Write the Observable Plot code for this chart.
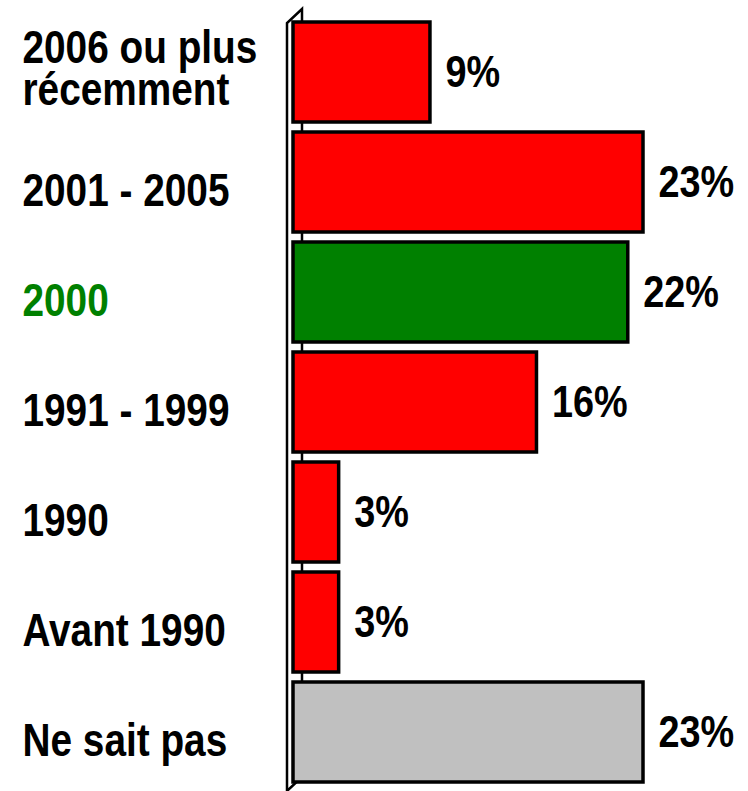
<!DOCTYPE html>
<html>
<head>
<meta charset="utf-8">
<script src="https://cdn.jsdelivr.net/npm/d3@7"></script>
<script src="https://cdn.jsdelivr.net/npm/@observablehq/plot@0.6"></script>
<style>
  html, body { margin: 0; padding: 0; background: #fff; }
  #chart svg { display: block; font-family: "Liberation Sans", Arial, sans-serif; }
</style>
</head>
<body>
<div id="chart"></div>
<script>
const categories = ["2006 ou plus\nrécemment", "2001 - 2005", "2000", "1991 - 1999", "1990", "Avant 1990", "Ne sait pas"];
const values = [9, 23, 22, 16, 3, 3, 23];
const valueLabels = ["9%", "23%", "22%", "16%", "3%", "3%", "23%"];
const barColors = ["#ff0000", "#ff0000", "#008000", "#ff0000", "#ff0000", "#ff0000", "#c0c0c0"];
const labelColors = ["#000", "#000", "#008000", "#000", "#000", "#000", "#000"];

const data = categories.map((c, i) => ({cat: c, value: values[i], label: valueLabels[i], bar: barColors[i], text: labelColors[i]}));

// 3D axis wall drawn with the x scale
function wall(index, scales, values, dimensions) {
  const x0 = scales.x(0);
  const fx = x0 - 6, bx = x0 + 9, d = 14;
  const top = 23, bottom = dimensions.height;
  const g = d3.create("svg:g").attr("fill", "none").attr("stroke", "#000").attr("stroke-width", 2.5);
  g.append("path").attr("d", `M${fx},${bottom}V${top}L${bx},${top - d}V${bottom - d}L${fx},${bottom}`);
  return g.node();
}

const catText = {x: 0, y: "cat", text: "cat", textAnchor: "start", dx: -271, fontSize: 47, fontWeight: "bold", fill: "text", className: "cats"};

const chart = Plot.plot({
  width: 748,
  height: 791,
  marginLeft: 293,
  marginRight: 105,
  marginTop: 17,
  marginBottom: 4,
  x: {domain: [0, 23], axis: null},
  y: {domain: categories, axis: null, paddingInner: 10 / 110, paddingOuter: 5 / 110},
  marks: [
    wall,
    Plot.barX(data, {x: "value", y: "cat", fill: "bar", stroke: "#000", strokeWidth: 3.5}),
    Plot.text(data, {x: "value", y: "cat", text: "label", textAnchor: "start", dx: 15, fontSize: 44, fontWeight: "bold", fill: "#000", className: "vals"}),
    Plot.text(data, {...catText, filter: d => !d.cat.includes("\n"), dy: 8}),
    Plot.text(data, {...catText, filter: d => d.cat.includes("\n"), dy: -2, lineHeight: 0.9})
  ]
});
document.getElementById("chart").append(chart);
// condense glyphs horizontally (narrow face is not installed)
d3.select(chart).selectAll("g.vals text").attr("transform", function() { return this.getAttribute("transform") + " scale(0.86,1)"; });
d3.select(chart).selectAll("g.cats text").attr("transform", function() { return this.getAttribute("transform") + " scale(0.825,1)"; });
</script>
</body>
</html>
